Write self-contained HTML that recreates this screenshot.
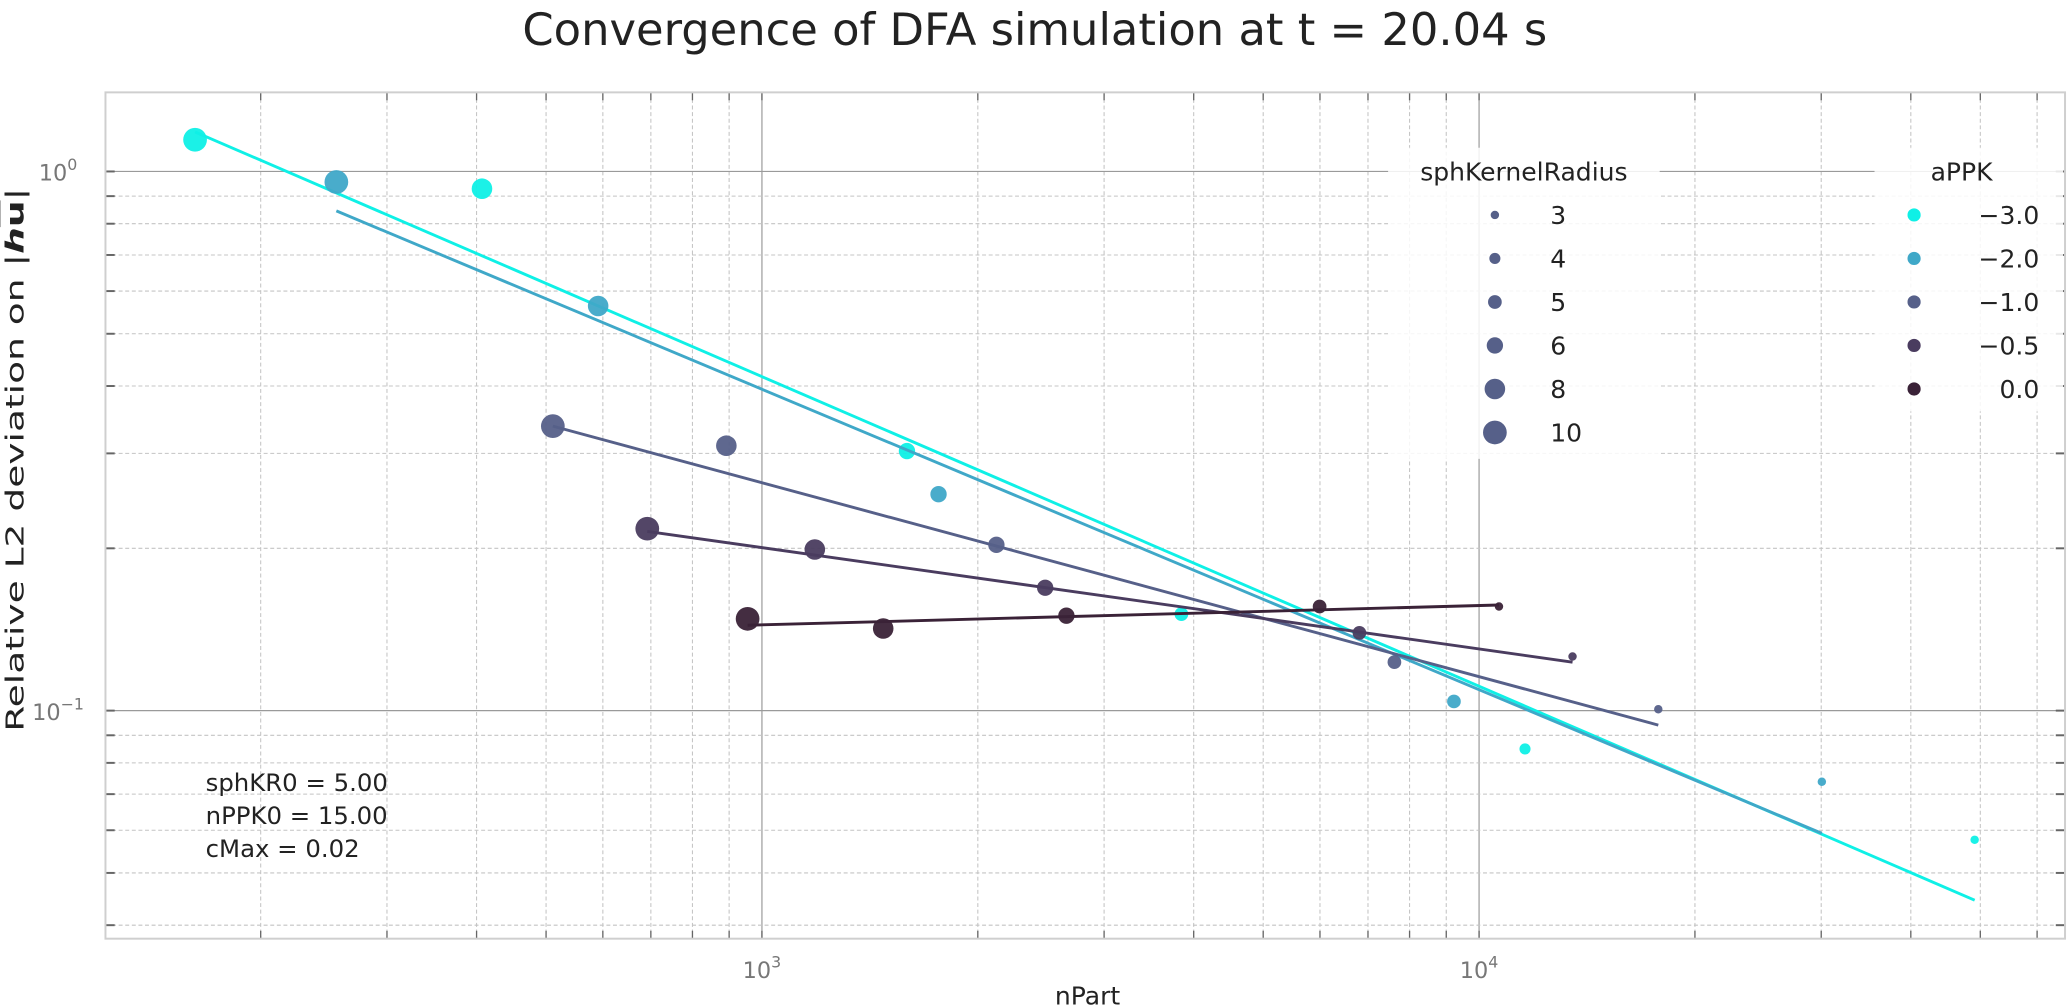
<!DOCTYPE html>
<html><head><meta charset="utf-8"><style>
html,body{margin:0;padding:0;background:#fff;}
svg{display:block;font-family:"DejaVu Sans","Liberation Sans",sans-serif;}
</style></head><body>
<svg id="chart" width="2067" height="1006" viewBox="0 0 1568 763" xmlns="http://www.w3.org/2000/svg">
<rect x="0" y="0" width="1568" height="763" fill="#fff"/>
<g id="grid"></g>
<g id="series"></g>
<g id="legends"></g>
<rect x="80" y="70" width="1486.5" height="642" fill="none" stroke="#cfcfcf" stroke-width="1.5"/>
<text x="785" y="34" text-anchor="middle" font-size="34" fill="#222">Convergence of DFA simulation at t = 20.04 s</text>
<text x="825" y="762" text-anchor="middle" font-size="19" fill="#222">nPart</text>
<text transform="translate(18,555) rotate(-90) scale(1.5,1)" text-anchor="start" font-size="19" fill="#222">Relative L2 deviation on  |<tspan font-style="italic" font-weight="bold">h</tspan><tspan font-weight="bold" text-decoration="overline">u</tspan>|</text>
<g font-size="18.5" fill="#222">
<text x="156" y="600">sphKR0 = 5.00</text>
<text x="156" y="625">nPPK0 = 15.00</text>
<text x="156" y="650">cMax = 0.02</text>
</g>
</svg>
<script>
// ---- data ----
const aPPKLevels = [-3.0, -2.0, -1.0, -0.5, 0.0];
const seriesColors = ["#0ff0e6", "#3fa8c8", "#566089", "#4a3c5f", "#3a2237"];
const nPart_m30 = [162, 407, 1593, 3845, 11590, 49100];
const err_m30 = [1.145, 0.929, 0.303, 0.151, 0.0849, 0.0576];
const kr_m30 = [10, 8, 6, 5, 4, 3];
const nPart_m20 = [255, 591, 1763, 9225, 30060];
const err_m20 = [0.956, 0.563, 0.252, 0.104, 0.0738];
const kr_m20 = [10, 8, 6, 5, 3];
const nPart_m10 = [511, 892, 2123, 7620, 17780];
const err_m10 = [0.337, 0.310, 0.203, 0.123, 0.1006];
const kr_m10 = [10, 8, 6, 5, 3];
const nPart_m05 = [692, 1185, 2483, 6810, 13500];
const err_m05 = [0.2175, 0.199, 0.169, 0.1394, 0.126];
const kr_m05 = [10, 8, 6, 5, 3];
const nPart_00 = [955, 1476, 2658, 5993, 10660];
const err_00 = [0.148, 0.142, 0.150, 0.156, 0.156];
const kr_00 = [10, 8, 6, 5, 3];
// fit lines: [x start, x end], [y start, y end]
const fitX_m30 = [162, 49100], fitY_m30 = [1.184, 0.0445];
const fitX_m20 = [255, 30060], fitY_m20 = [0.845, 0.0592];
const fitX_m10 = [511, 17780], fitY_m10 = [0.337, 0.094];
const fitX_m05 = [692, 13500], fitY_m05 = [0.215, 0.123];
const fitX_00 = [955, 10660], fitY_00 = [0.144, 0.157];
const krLegend = [3, 4, 5, 6, 8, 10];
const xMajorTicks = [1000, 10000];
const xMajorLabels = ["3", "4"];
const yMajorTicks = [1, 0.1];
const yMajorLabels = ["0", "\u22121"];

// ---- axes ----
const L = 80, R = 1566.5, T = 70, B = 712;
function xs(v){ return 578 + (Math.log10(v) - 3) * 544; }
function ys(v){ return 130 - Math.log10(v) * 409; }
function rad(k){ return {3:3.2,4:4.2,5:5.2,6:6.2,8:7.8,10:9}[k]; }
const NS = "http://www.w3.org/2000/svg";
function mk(tag, attrs, parent){ const e = document.createElementNS(NS, tag); for (const k in attrs) e.setAttribute(k, attrs[k]); parent.appendChild(e); return e; }

const grid = document.getElementById('grid');
for (let d = 100; d <= 10000; d *= 10) {
  for (let m = 1; m <= 9; m++) {
    const v = d * m; const x = xs(v);
    if (x <= L || x >= R) continue;
    const major = (m === 1);
    const ln = mk('line', {x1:x, y1:T, x2:x, y2:B, stroke: major ? '#9a9a9a' : '#c4c4c4', 'stroke-width': major ? 0.9 : 0.8, 'stroke-dasharray': major ? '' : '3,2'}, grid);
    
    
    const tk = mk('line', {x1:x, y1:B, x2:x, y2:B-6, stroke:'#666', 'stroke-width':1}, grid);
    
    
    const tk2 = mk('line', {x1:x, y1:T, x2:x, y2:T+6, stroke:'#666', 'stroke-width':1}, grid);
    
    
  }
}
for (let d = 0.01; d <= 1.01; d *= 10) {
  for (let m = 1; m <= 9; m++) {
    const v = d * m; const y = ys(v);
    if (y <= T || y >= B) continue;
    const major = (m === 1);
    const ln = mk('line', {x1:L, y1:y, x2:R, y2:y, stroke: major ? '#9a9a9a' : '#c4c4c4', 'stroke-width': major ? 0.9 : 0.8, 'stroke-dasharray': major ? '' : '3,2'}, grid);
    
    
    const tk = mk('line', {x1:L, y1:y, x2:L+7, y2:y, stroke:'#666', 'stroke-width':1.5}, grid);
    
    
    const tk2 = mk('line', {x1:R, y1:y, x2:R-7, y2:y, stroke:'#666', 'stroke-width':1.5}, grid);
    
    
  }
}
xMajorTicks.forEach((v, i) => {
  const t = mk('text', {x: xs(v), y: 742, 'text-anchor':'middle', 'font-size':17, fill:'#777'}, grid);
  
  
  t.innerHTML = '10<tspan dy="-8" font-size="12">' + xMajorLabels[i] + '</tspan>';
});
yMajorTicks.forEach((v, i) => {
  const t = mk('text', {x: 44, y: ys(v) + 7, 'text-anchor':'middle', 'font-size':17, fill:'#777'}, grid);
  
  
  t.innerHTML = '10<tspan dy="-8" font-size="12">' + yMajorLabels[i] + '</tspan>';
});

// ---- series ----
const sg = document.getElementById('series');
const allSeries = [
  [nPart_m30, err_m30, kr_m30, fitX_m30, fitY_m30],
  [nPart_m20, err_m20, kr_m20, fitX_m20, fitY_m20],
  [nPart_m10, err_m10, kr_m10, fitX_m10, fitY_m10],
  [nPart_m05, err_m05, kr_m05, fitX_m05, fitY_m05],
  [nPart_00, err_00, kr_00, fitX_00, fitY_00]
];
allSeries.forEach((s, i) => {
  const [xsArr, ysArr, krArr, fx, fy] = s;
  const col = seriesColors[i];
  xsArr.forEach((v, j) => {
    const c = mk('circle', {cx: xs(v), cy: ys(ysArr[j]), r: rad(krArr[j]), fill: col, 'fill-opacity': 0.95}, sg);
    
    
  });
  const ln = mk('line', {x1: xs(fx[0]), y1: ys(fy[0]), x2: xs(fx[1]), y2: ys(fy[1]), stroke: col, 'stroke-width': 2.2}, sg);
  
  
});

// ---- legends ----
const lg = document.getElementById('legends');
const b1 = mk('rect', {x:1053, y:112, width:206, height:236, fill:'#fff', 'fill-opacity':0.85}, lg);


const t1 = mk('text', {x:1156, y:137, 'text-anchor':'middle', 'font-size':19, fill:'#222'}, lg);


t1.textContent = 'sphKernelRadius';
krLegend.forEach((k, j) => {
  const y = 163 + j * 33;
  const c = mk('circle', {cx:1134, cy:y, r: rad(k), fill:'#566089'}, lg);
  
  
  const t = mk('text', {x:1176, y:y+7, 'font-size':19, fill:'#222'}, lg);
  
  
  t.textContent = String(k);
});
const b2 = mk('rect', {x:1422, y:112, width:143, height:200, fill:'#fff', 'fill-opacity':0.85}, lg);


const t2 = mk('text', {x:1488, y:137, 'text-anchor':'middle', 'font-size':19, fill:'#222'}, lg);


t2.textContent = 'aPPK';
aPPKLevels.forEach((a, j) => {
  const y = 163 + j * 33;
  const c = mk('circle', {cx:1452, cy:y, r:5, fill: seriesColors[j]}, lg);
  
  
  const t = mk('text', {x:1547, y:y+7, 'text-anchor':'end', 'font-size':19, fill:'#222'}, lg);
  
  
  t.textContent = (a < 0 ? '\u2212' + Math.abs(a).toFixed(1) : a.toFixed(1));
});
</script>
</body></html>
